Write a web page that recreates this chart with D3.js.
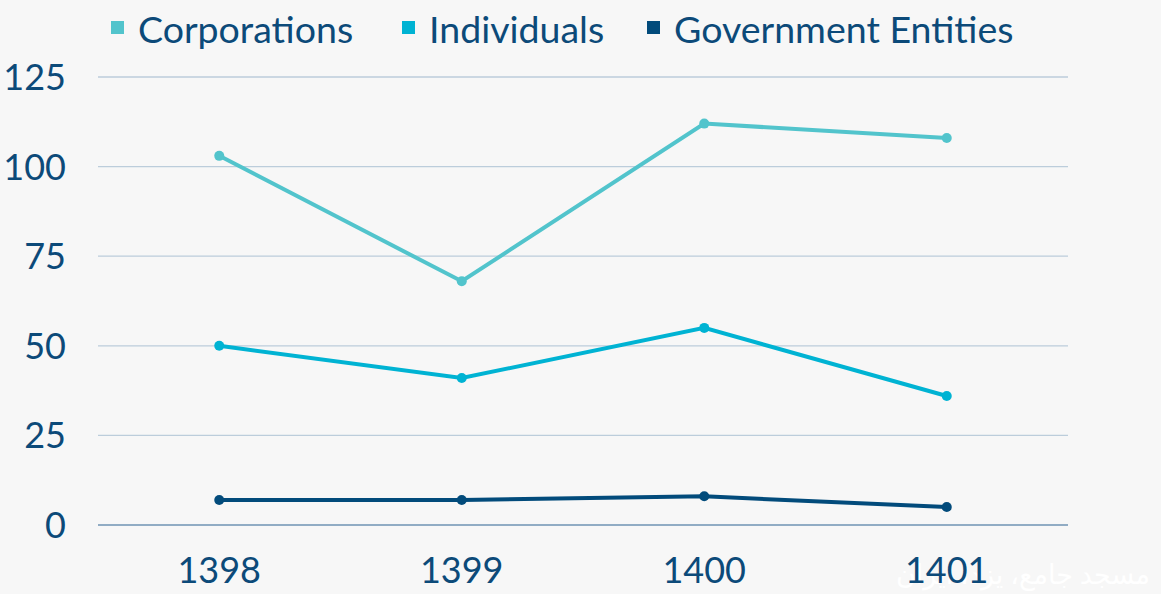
<!DOCTYPE html>
<html>
<head>
<meta charset="utf-8">
<script src="https://cdn.jsdelivr.net/npm/d3@7"></script>
<style>
  body { margin: 0; background: #f7f7f7; }
  svg { display: block; font-family: Lato, "Noto Sans", sans-serif; }
</style>
</head>
<body>
<div id="chart"></div>
<script>
const years = ["1398", "1399", "1400", "1401"];
const corporations = [103, 68, 112, 108];
const individuals = [50, 41, 55, 36];
const government = [7, 7, 8, 5];
const yTicks = [0, 25, 50, 75, 100, 125];

const series = [
    { name: "Corporations", values: corporations, color: "#52c4cc" },
    { name: "Individuals", values: individuals, color: "#00b3d3" },
    { name: "Government Entities", values: government, color: "#024b7b" }
];

const width = 1161, height = 594;
const textColor = "#0c4a79";

const svg = d3.select("#chart").append("svg")
    .attr("width", width)
    .attr("height", height);

svg.append("rect")
    .attr("width", width)
    .attr("height", height)
    .attr("fill", "#f7f7f7");

const x = d3.scaleBand().domain(years).range([98, 1068]);
const y = d3.scaleLinear().domain([0, 125]).range([525, 77]);

// watermark (sits behind everything)
svg.append("text")
    .attr("x", 1150)
    .attr("y", 584)
    .attr("text-anchor", "end")
    .attr("fill", "#ffffff")
    .style("font-family", "'Noto Sans', 'DejaVu Sans', sans-serif")
    .style("font-size", "27px")
    .text("مسجد جامع، یزد، ایران");

// gridlines
svg.append("g")
    .selectAll("line")
    .data(yTicks)
    .join("line")
    .attr("x1", 98)
    .attr("x2", 1068)
    .attr("y1", d => y(d))
    .attr("y2", d => y(d))
    .attr("stroke", d => d === 0 ? "#6f93b3" : "#bccddb")
    .attr("stroke-width", 1.3);

// y axis labels
svg.append("g")
    .selectAll("text")
    .data(yTicks)
    .join("text")
    .attr("x", 66)
    .attr("y", d => y(d))
    .attr("dy", "0.36em")
    .attr("text-anchor", "end")
    .attr("fill", textColor)
    .style("font-size", "36px")
    .text(d => d);

// x axis labels
svg.append("g")
    .selectAll("text")
    .data(years)
    .join("text")
    .attr("x", d => x(d) + x.bandwidth() / 2)
    .attr("y", 583)
    .attr("text-anchor", "middle")
    .attr("fill", textColor)
    .style("font-size", "36px")
    .text(d => d);

const line = d3.line()
    .x((d, i) => x(years[i]) + x.bandwidth() / 2)
    .y(d => y(d));

series.forEach(s => {
    svg.append("path")
        .datum(s.values)
        .attr("d", line)
        .attr("fill", "none")
        .attr("stroke", s.color)
        .attr("stroke-width", 4);

    svg.append("g")
        .selectAll("circle")
        .data(s.values)
        .join("circle")
        .attr("cx", (d, i) => x(years[i]) + x.bandwidth() / 2)
        .attr("cy", d => y(d))
        .attr("r", 5)
        .attr("fill", s.color);
});

// legend
const legendX = [111, 402, 647];
series.forEach((s, i) => {
    svg.append("rect")
        .attr("x", legendX[i])
        .attr("y", 21)
        .attr("width", 13)
        .attr("height", 13)
        .attr("fill", s.color);
    svg.append("text")
        .attr("x", legendX[i] + 27)
        .attr("y", 43)
        .attr("fill", textColor)
        .style("font-size", "37.5px")
        .text(s.name);
});
</script>
</body>
</html>
